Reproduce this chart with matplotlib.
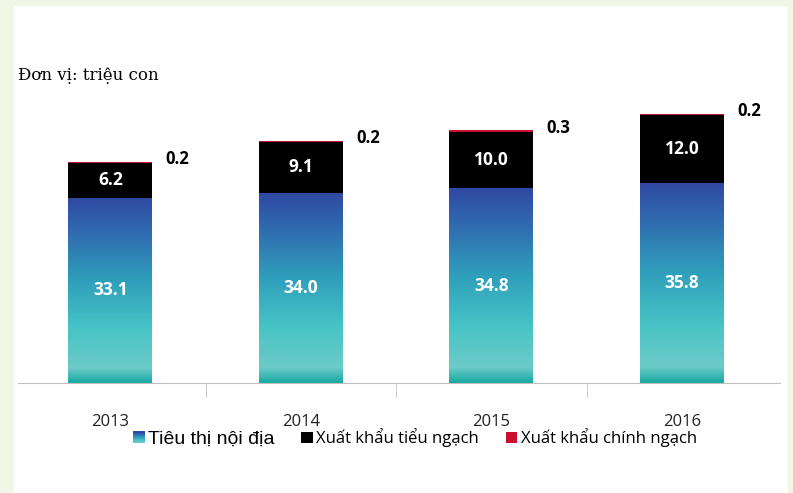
import matplotlib
matplotlib.use("Agg")
import matplotlib.pyplot as plt
import numpy as np
from matplotlib.colors import LinearSegmentedColormap
from matplotlib.patches import Rectangle, Patch
from matplotlib.legend_handler import HandlerPatch

years = ["2013", "2014", "2015", "2016"]
domestic = [33.1, 34.0, 34.8, 35.8]
informal_export = [6.2, 9.1, 10.0, 12.0]
official_export = [0.2, 0.2, 0.3, 0.2]
legend_labels = ["Tiêu thị nội địa", "Xuất khẩu tiểu ngạch", "Xuất khẩu chính ngạch"]
unit_text = "Đơn vị: triệu con"

SANS = ["Open Sans", "Liberation Sans", "DejaVu Sans"]
NARROW = ["Liberation Sans Narrow", "Liberation Sans", "DejaVu Sans"]

grad = LinearSegmentedColormap.from_list(
    "g",
    [(0.0, "#17a9a2"), (0.08, "#6ccbc8"), (0.3, "#46c3c6"),
     (0.55, "#2f9fbb"), (0.8, "#306db0"), (1.0, "#2f48a3")])

fig = plt.figure(figsize=(7.93, 4.93), dpi=100)
fig.patch.set_facecolor("white")
border = "#f2f6e6"
fig.add_artist(Rectangle((0, 0), 13 / 793, 1, transform=fig.transFigure, color=border, zorder=0))
fig.add_artist(Rectangle((0, 1 - 5 / 493), 1, 5 / 493, transform=fig.transFigure, color=border, zorder=0))
fig.add_artist(Rectangle((788 / 793, 0), 5 / 793, 1, transform=fig.transFigure, color=border, zorder=0))

ax = fig.add_axes([18 / 793, 1 - 383 / 493, 762 / 793, 280 / 493])
ax.set_facecolor("none")
x = np.arange(len(years))
w = 0.44

bars1 = ax.bar(x, domestic, width=w, color="none", edgecolor="none")
dom = np.array(domestic)
inf = np.array(informal_export)
off = np.array(official_export)
ax.bar(x, inf, width=w, bottom=dom, color="black", edgecolor="none")
ax.bar(x, off, width=w, bottom=dom + inf, color="#c8102e", edgecolor="none")

gimg = np.linspace(0, 1, 256).reshape(-1, 1)
for b in bars1:
    x0, y0 = b.get_x(), b.get_y()
    im = ax.imshow(gimg, cmap=grad, origin="lower", aspect="auto",
                   extent=[x0, x0 + b.get_width(), y0, y0 + b.get_height()], zorder=2)
    im.set_clip_path(b)

ax.set_xlim(-0.485, len(years) - 0.485)
ax.set_ylim(0, 50)

for i in range(len(years)):
    ax.text(x[i], dom[i] / 2, f"{dom[i]:.1f}", ha="center", va="center",
            color="white", fontsize=12.5, fontweight="bold", family=SANS, zorder=3)
    ax.text(x[i], dom[i] + inf[i] / 2, f"{inf[i]:.1f}", ha="center", va="center",
            color="white", fontsize=12.5, fontweight="bold", family=SANS, zorder=3)
    ax.text(x[i] + w / 2 + 0.07, dom[i] + inf[i] + off[i] + 0.5, f"{off[i]:.1f}",
            ha="left", va="center", color="black", fontsize=12, fontweight="bold",
            family=SANS, zorder=3)

for s in ["top", "right", "left"]:
    ax.spines[s].set_visible(False)
ax.spines["bottom"].set_color("#bfbfbf")
ax.set_yticks([])
ax.set_xticks(x)
ax.set_xticklabels(years, family=SANS, fontsize=12, color="#222222")
ax.tick_params(axis="x", which="major", length=0, pad=22)
ax.set_xticks(np.arange(len(years) - 1) + 0.5, minor=True)
ax.tick_params(axis="x", which="minor", length=10, color="#bfbfbf")

fig.text(18 / 793, 1 - 75 / 493, unit_text, family=["DejaVu Serif"],
         fontsize=12, va="center", ha="left")


class GradHandler(HandlerPatch):
    def create_artists(self, legend, orig_handle, xdescent, ydescent, width, height, fontsize, trans):
        s = height
        x0 = xdescent + (width - s) / 2
        arts = []
        n = 12
        for k in range(n):
            r = Rectangle((x0, -ydescent + s * k / n), s, s / n + 0.3,
                          facecolor=grad(k / (n - 1)), edgecolor="none", transform=trans)
            arts.append(r)
        return arts


h1 = Patch(facecolor="#2f9fbb")
h2 = Patch(facecolor="black")
h3 = Patch(facecolor="#c8102e")
leg = fig.legend([h1, h2, h3], legend_labels, loc="center", bbox_to_anchor=(415 / 793, 1 - 438 / 493),
                 ncol=3, frameon=False, handlelength=0.7, handleheight=0.7, handletextpad=0.2,
                 columnspacing=1.6, prop={"family": SANS, "size": 12},
                 handler_map={h1: GradHandler()})
leg.get_texts()[0].set_fontsize(14)
leg.get_texts()[0].set_family(NARROW)

fig.savefig("out.png", dpi=100, facecolor=fig.get_facecolor())
